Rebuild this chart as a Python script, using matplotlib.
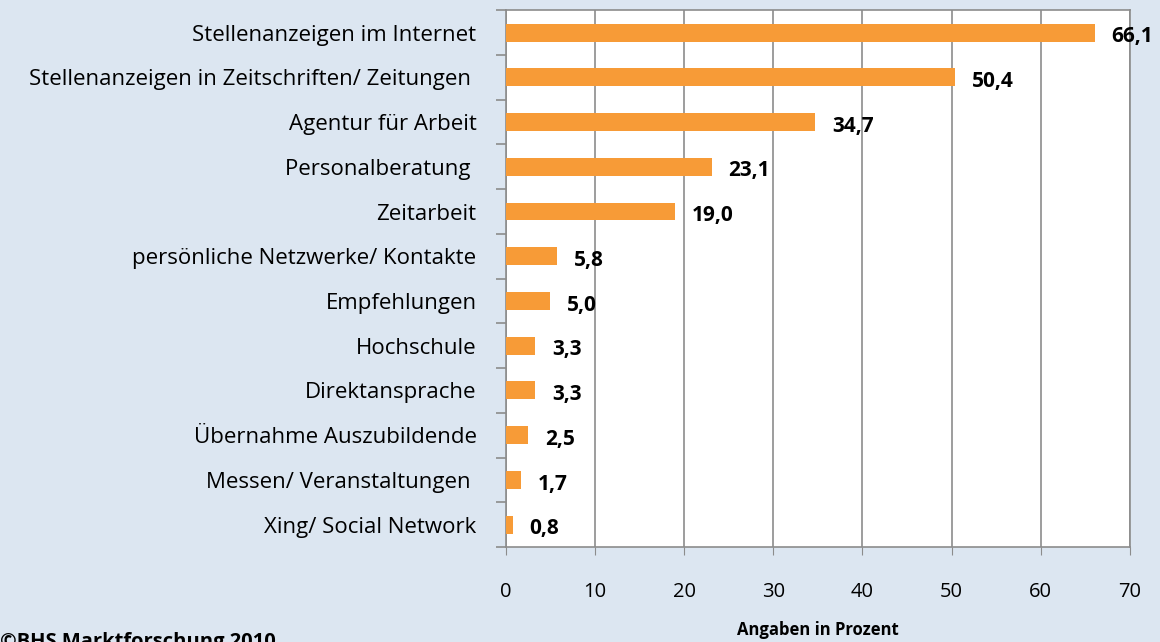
import numpy as np
import matplotlib.pyplot as plt

# Data (top to bottom as shown)
categories = [
    "Stellenanzeigen im Internet",
    "Stellenanzeigen in Zeitschriften/ Zeitungen ",
    "Agentur für Arbeit",
    "Personalberatung ",
    "Zeitarbeit",
    "persönliche Netzwerke/ Kontakte",
    "Empfehlungen",
    "Hochschule",
    "Direktansprache",
    "Übernahme Auszubildende",
    "Messen/ Veranstaltungen ",
    "Xing/ Social Network",
]
values = [66.1, 50.4, 34.7, 23.1, 19.0, 5.8, 5.0, 3.3, 3.3, 2.5, 1.7, 0.8]
xticks = [0, 10, 20, 30, 40, 50, 60, 70]

bg = "#DCE6F1"
bar_color = "#F79B37"
grid_color = "#8C8C8C"

plt.rcParams['font.family'] = ['Open Sans', 'DejaVu Sans']

fig = plt.figure(figsize=(11.6, 6.42), dpi=100, facecolor=bg)
ax = fig.add_axes([0.436, 0.148, 0.538, 0.836])
ax.set_facecolor("white")

n = len(categories)
y = np.arange(n)[::-1]
ax.barh(y, values, height=0.4, color=bar_color, zorder=3)

ax.set_xlim(0, 70)
ax.set_ylim(-0.5, n - 0.5)
ax.set_xticks(xticks)
ax.set_xticklabels([str(t) for t in xticks], fontsize=14.5)
ax.tick_params(axis='x', length=6, color=grid_color, pad=19)
ax.xaxis.grid(True, color=grid_color, linewidth=1.2, zorder=0)

# category labels (no tick marks), boundary ticks on left spine
ax.set_yticks(y)
ax.set_yticklabels(categories, fontsize=16)
ax.tick_params(axis='y', length=0, pad=21)
ax.set_yticks(np.arange(-0.5, n, 1.0), minor=True)
ax.tick_params(axis='y', which='minor', length=7, color=grid_color, width=1.2)

for s in ax.spines.values():
    s.set_color(grid_color)
    s.set_linewidth(1.2)

for yi, v in zip(y, values):
    ax.annotate(f"{v:.1f}".replace(".", ","), xy=(v, yi), xytext=(12, -3),
                textcoords="offset points", ha="left", va="center",
                fontsize=15, fontweight="bold", color="black")

ax.set_xlabel("Angaben in Prozent", fontsize=12, fontweight="bold", labelpad=14)

fig.text(0.0, -0.016, "©BHS Marktforschung 2010", fontsize=14.5, fontweight="bold",
         ha="left", va="bottom")

fig.savefig("out.png", dpi=100, facecolor=bg)
